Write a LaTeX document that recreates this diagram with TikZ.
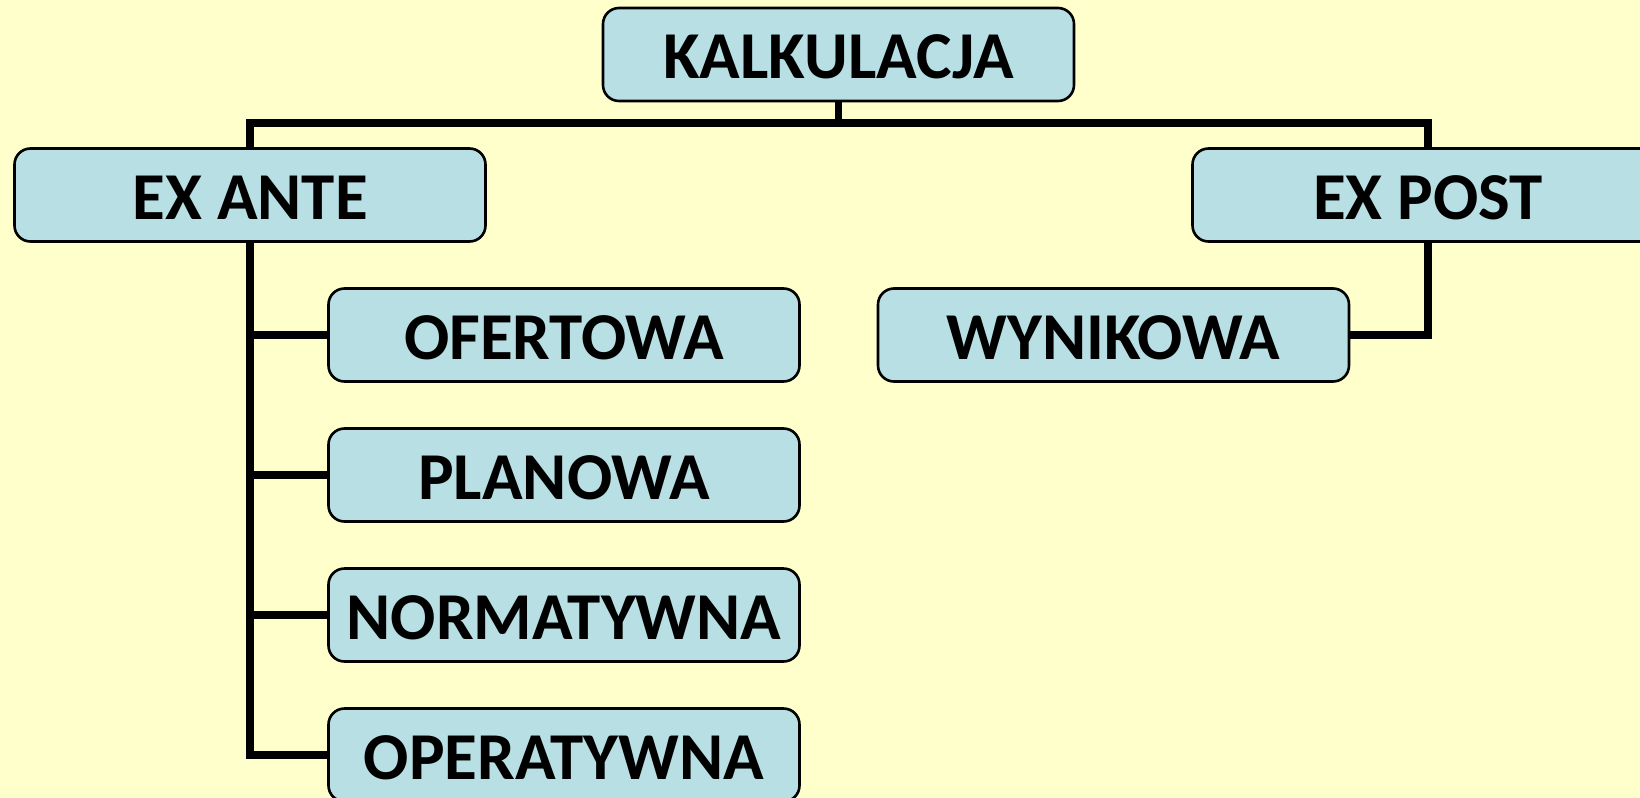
\documentclass[tikz,border=0pt]{standalone}
\usepackage{fontspec}
\setmainfont{Carlito}
\usepackage{tikz}
\definecolor{bgyellow}{HTML}{FFFFCC}
\definecolor{boxblue}{HTML}{B7DFE4}

\begin{document}
\begin{tikzpicture}[x=0.5pt,y=-0.5pt,
    box/.style={draw, line width=1.3pt, rounded corners=8pt, fill=boxblue,
      minimum width=235.5pt, minimum height=46.5pt, inner sep=0pt,
      text height=24pt, text depth=0pt,
      font=\fontsize{33.5}{40}\selectfont\bfseries},
    link/.style={line width=3.7pt}]
    \clip (0,0) rectangle (1640,798);
    \fill[bgyellow] (0,0) rectangle (1640,798);
           \node[box](kalk)  at (838.5,54.5) {KALKULACJA};
      \node[box](exante)  at (250,195) {EX ANTE};
      \node[box](expost)  at (1428,195) {EX POST};
          \node[box](ofert)  at (564,335) {OFERTOWA};
          \node[box](plan)  at (564,475) {PLANOWA};
          \node[box](norm)  at (564,615) {NORMATYWNA};
          \node[box](operat)  at (564,755) {OPERATYWNA};
      \node[box](wynik)  at (1113.5,335) {WYNIKOWA};
      \coordinate (bus) at (838.5,123);
      \draw[link] (kalk) -- (bus);
      \draw[link] (exante) |- (bus) -| (expost);
      \foreach \n in {ofert,plan,norm,operat}
        \draw[link] (exante) |- (\n);
      \draw[link] (expost) |- (wynik);
          \end{tikzpicture}
\end{document}
